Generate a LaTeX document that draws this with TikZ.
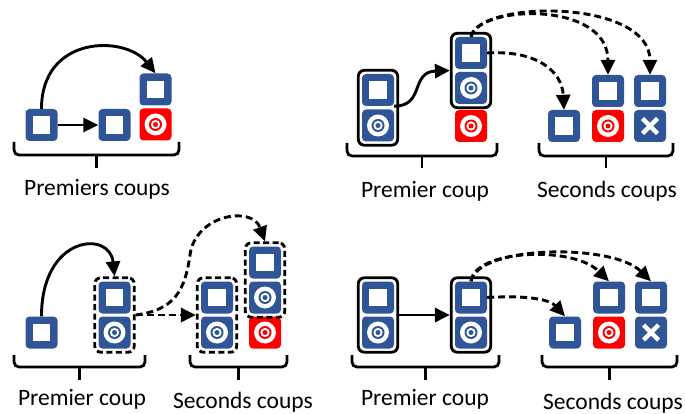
\documentclass[tikz,border=0pt]{standalone}
\usepackage{fontspec}
\setmainfont{Carlito}
\usetikzlibrary{arrows.meta,fit}
\definecolor{tblue}{HTML}{2F5597}
\definecolor{tred}{HTML}{FF0000}
\tikzset{
  tile/.style={minimum width=32pt, minimum height=32pt, inner sep=0pt, rounded corners=4pt, fill=tblue},
  sq/.style={tile, path picture={\fill[white,sharp corners] ([shift={(-8.75pt,-8.75pt)}]path picture bounding box.center) rectangle ++(17.5pt,17.5pt);}},
  tgt/.style={tile, fill=#1, path picture={
     \fill[white] (path picture bounding box.center) circle[radius=11pt];
     \fill[#1] (path picture bounding box.center) circle[radius=6.5pt];
     \fill[white] (path picture bounding box.center) circle[radius=4.6pt];
     \fill[#1] (path picture bounding box.center) circle[radius=2.5pt];}},
  tgt/.default=tblue,
  xt/.style={tile, path picture={
     \draw[white,line width=4.5pt,sharp corners] ([shift={(-7.5pt,-7.5pt)}]path picture bounding box.center) -- ++(15pt,15pt);
     \draw[white,line width=4.5pt,sharp corners] ([shift={(-7.5pt,7.5pt)}]path picture bounding box.center) -- ++(15pt,-15pt);}},
  grp/.style={draw, line width=2.8pt, rounded corners=6pt, inner sep=3.5pt},
  dgrp/.style={grp, dash pattern=on 6pt off 3.5pt},
  arr/.style={line width=2.9pt, -{Triangle[length=15pt,width=14pt]}},
  darr/.style={arr, dash pattern=on 7pt off 4pt},
  bracestyle/.style={line width=2.8pt, rounded corners=5pt},
  lbl/.style={font=\fontsize{23.5}{28}\selectfont, anchor=base, inner sep=0pt}
}
\newcommand\mybrace[5]{%
  \draw[bracestyle] (#1,#3) -- (#1,#4) -- (#2,#4) -- (#2,#3);
  \draw[line width=2.8pt] ({(#1+#2)/2},#4) -- ({(#1+#2)/2},#5);}
\begin{document}
\begin{tikzpicture}[x=1pt,y=-1pt]
\useasboundingbox (0,0) rectangle (685,414);

% ---------- Panel 1 ----------
\node[sq] (a1) at (41.5,125) {};
\node[sq] (a2) at (114.5,125) {};
\node[sq] (a3) at (155.5,89.5) {};
\node[tgt=tred] (a4) at (155.5,124.5) {};
\draw[arr] (a1.east) -- (a2.west);
\draw[arr] (a1.north) .. controls (41.5,35) and (125,35) .. (a3.north);
\mybrace{14}{179}{142}{155}{168}
\node[lbl] (l1) at (97,196) {Premiers coups};

% ---------- Panel 2 ----------
\node[sq] (b1) at (378,90) {};
\node[tgt] (b2) at (378,125.5) {};
\node[sq] (b3) at (471,53) {};
\node[tgt] (b4) at (471,88) {};
\node[tgt=tred] (b5) at (471,126) {};
\node[sq] (b6) at (564,126) {};
\node[sq] (b7) at (608,91) {};
\node[tgt=tred] (b8) at (608,126) {};
\node[sq] (b9) at (650,91) {};
\node[xt] (b10) at (650,126) {};
\node[grp, fit=(b1)(b2)] (B1) {};
\node[grp, fit=(b3)(b4)] (B2) {};
\draw[arr] (b1.south east) .. controls (425,106) and (410,72) .. (B2.west);
\draw[darr] (b3.north) .. controls (478,0) and (650,-2) .. (b9.north);
\draw[darr] (b3.north) .. controls (478,5) and (608,0) .. (b7.north);
\draw[darr] (b3.east) .. controls (535,50) and (562,70) .. (b6.north);
\mybrace{347}{497}{143}{156}{168}
\mybrace{539}{673}{143}{156}{168}
\node[lbl] (l2) at (425,197) {Premier coup};
\node[lbl] (l3) at (607,197) {Seconds coups};

% ---------- Panel 3 ----------
\node[sq] (c1) at (41.5,332.5) {};
\node[sq] (c2) at (114.5,297.5) {};
\node[tgt] (c3) at (114.5,332.5) {};
\node[sq] (c4) at (217,297.5) {};
\node[tgt] (c5) at (217,332.5) {};
\node[sq] (c6) at (265,262.5) {};
\node[tgt] (c7) at (265,297.5) {};
\node[tgt=tred] (c8) at (265,332.5) {};
\node[dgrp, fit=(c2)(c3)] (C1) {};
\node[dgrp, fit=(c4)(c5)] (C2) {};
\node[dgrp, fit=(c6)(c7)] (C3) {};
\draw[arr] (c1.north) .. controls (41.5,235) and (110,230) .. (C1.north);
\draw[darr] (C1.east) -- (C2.west);
\draw[darr] (C1.east) .. controls (175,310) and (185,290) .. (190,255) .. controls (195,215) and (252,205) .. (C3.north);
\mybrace{14}{145}{355}{367}{380}
\mybrace{190}{287}{355}{367}{380}
\node[lbl] (l4) at (82,405) {Premier coup};
\node[lbl] (l5) at (243,408) {Seconds coups};

% ---------- Panel 4 ----------
\node[sq] (d1) at (378,297.5) {};
\node[tgt] (d2) at (378,332.5) {};
\node[sq] (d3) at (471,297.5) {};
\node[tgt] (d4) at (471,332.5) {};
\node[sq] (d5) at (565,332.5) {};
\node[sq] (d6) at (609,297.5) {};
\node[tgt=tred] (d7) at (609,332.5) {};
\node[sq] (d8) at (651,297.5) {};
\node[xt] (d9) at (651,332.5) {};
\node[grp, fit=(d1)(d2)] (D1) {};
\node[grp, fit=(d3)(d4)] (D2) {};
\draw[arr] (D1.east) -- (D2.west);
\draw[darr] (d3.north) .. controls (478,245) and (612,243) .. (d8.north);
\draw[darr] (d3.north) .. controls (474,250) and (572,245) .. (d6.north);
\draw[darr] (d3.east) .. controls (530,295) and (550,300) .. (d5.north);
\mybrace{352}{499}{355}{367}{380}
\mybrace{542}{677}{355}{367}{380}
\node[lbl] (l6) at (425,405) {Premier coup};
\node[lbl] (l7) at (613,409) {Seconds coups};
\end{tikzpicture}
\end{document}
